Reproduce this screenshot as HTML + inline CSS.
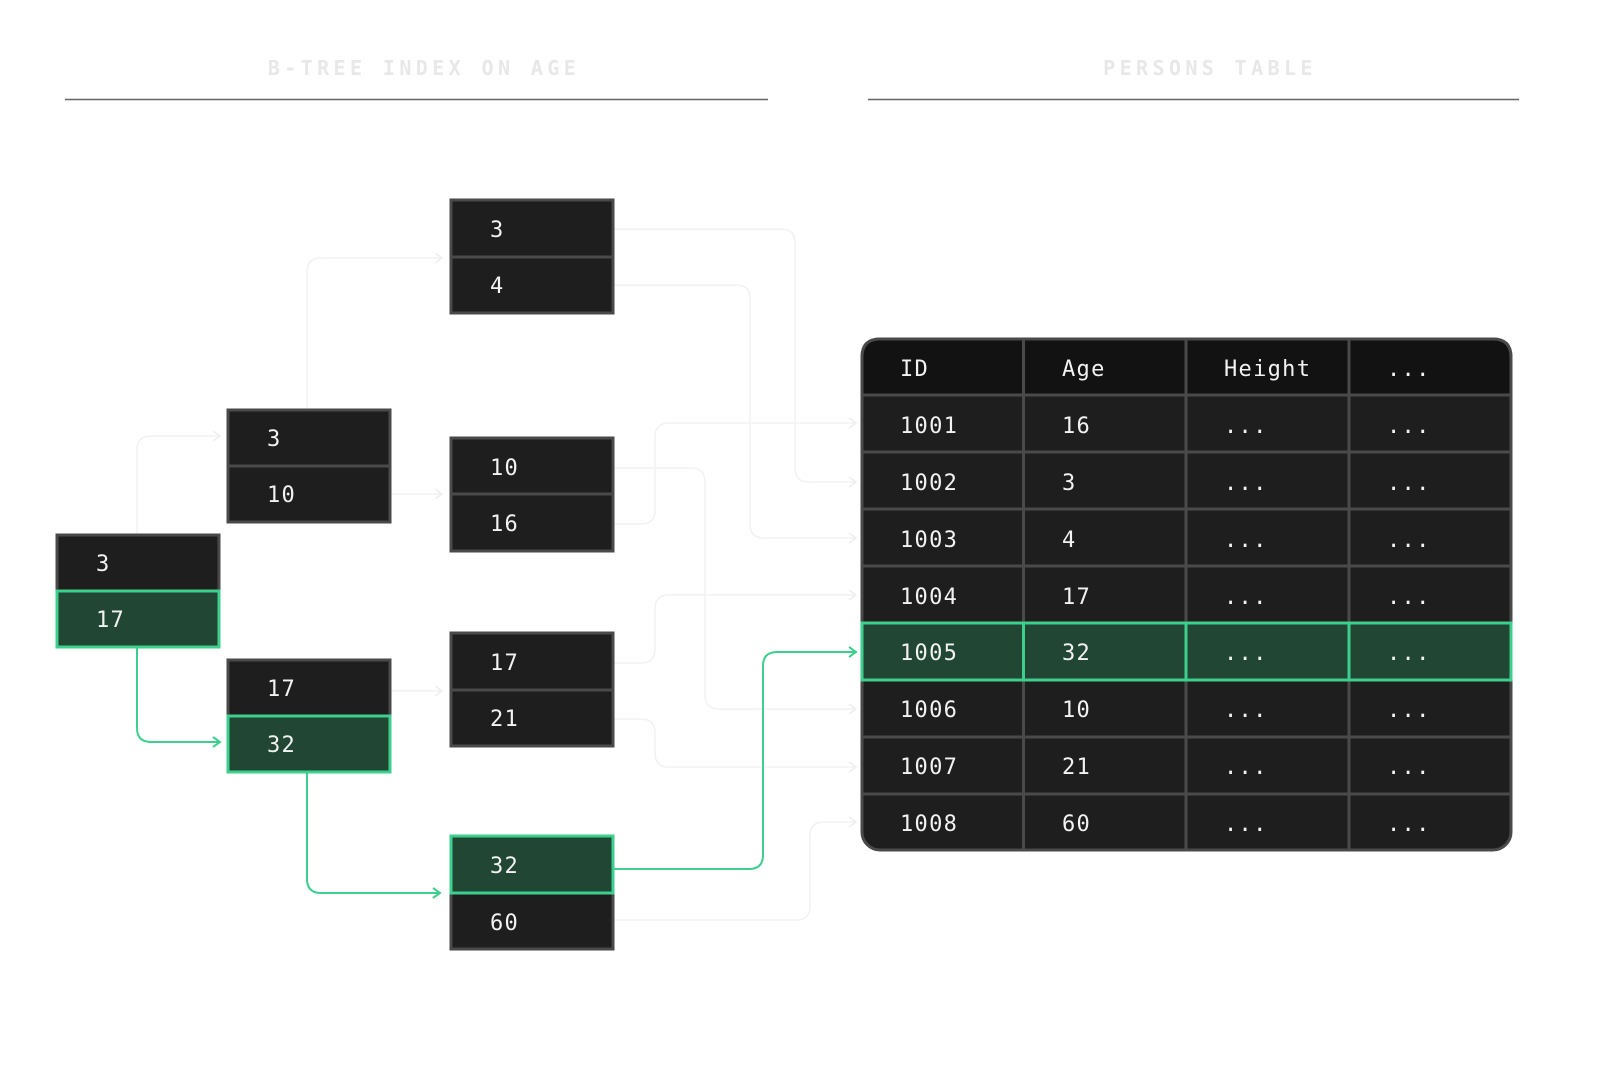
<!DOCTYPE html>
<html><head><meta charset="utf-8"><style>
html,body{margin:0;padding:0;background:#fff;}
svg{display:block;}
text{font-family:"DejaVu Sans Mono","Liberation Mono",monospace;}
</style></head><body>
<svg width="1600" height="1091" viewBox="0 0 1600 1091" xmlns="http://www.w3.org/2000/svg">
<defs>
<marker id="af" markerWidth="12" markerHeight="12" refX="10" refY="6" orient="auto" markerUnits="userSpaceOnUse"><path d="M3,1 L10,6 L3,11" fill="none" stroke="#eeeeee" stroke-width="1.5"/></marker>
<marker id="ag" markerWidth="12" markerHeight="12" refX="10" refY="6" orient="auto" markerUnits="userSpaceOnUse"><path d="M3,1 L10,6 L3,11" fill="none" stroke="#3ecf8e" stroke-width="2"/></marker>
</defs>
<g font-size="20" fill="#e8e8e8" letter-spacing="4.4" text-anchor="middle" font-weight="bold">
<text x="424" y="75">B-TREE INDEX ON AGE</text>
<text x="1210" y="75">PERSONS TABLE</text>
</g>
<line x1="65" y1="99.5" x2="768" y2="99.5" stroke="#666" stroke-width="1.5"/>
<line x1="868" y1="99.5" x2="1519" y2="99.5" stroke="#666" stroke-width="1.5"/>

<g fill="none" stroke="#f2f2f2" stroke-width="1.5" marker-end="url(#af)">
<path d="M137,535 V450 Q137,436 151,436 H220"/>
<path d="M307,410 V272 Q307,258 321,258 H442"/>
<path d="M390,494 H442"/>
<path d="M390,691 H442"/>
<path d="M613,229 H781 Q795,229 795,243 V468 Q795,482 809,482 H856"/>
<path d="M613,285 H736 Q750,285 750,299 V524 Q750,538 764,538 H856"/>
<path d="M613,468 H691 Q705,468 705,482 V695 Q705,709 719,709 H856"/>
<path d="M613,524 H641 Q655,524 655,510 V437 Q655,423 669,423 H856"/>
<path d="M613,663 H641 Q655,663 655,649 V609 Q655,595 669,595 H856"/>
<path d="M613,719 H641 Q655,719 655,733 V753 Q655,767 669,767 H856"/>
<path d="M613,920 H796 Q810,920 810,906 V836 Q810,822 824,822 H856"/>
</g>
<g fill="none" stroke="#3ecf8e" stroke-width="2" marker-end="url(#ag)">
<path d="M137,647 V728 Q137,742 151,742 H220"/>
<path d="M307,772 V879 Q307,893 321,893 H440"/>
<path d="M613,869 H749 Q763,869 763,855 V666 Q763,652 777,652 H856"/>
</g>

<g stroke="#4a4a4a" stroke-width="3">
<rect x="57" y="535" width="162" height="112" fill="#1e1e1e"/>
<rect x="228" y="410" width="162" height="112" fill="#1e1e1e"/>
<line x1="228" y1="466" x2="390" y2="466"/>
<rect x="228" y="660" width="162" height="112" fill="#1e1e1e"/>
<rect x="451" y="200" width="162" height="113" fill="#1e1e1e"/>
<line x1="451" y1="257" x2="613" y2="257"/>
<rect x="451" y="438" width="162" height="113" fill="#1e1e1e"/>
<line x1="451" y1="494" x2="613" y2="494"/>
<rect x="451" y="633" width="162" height="113" fill="#1e1e1e"/>
<line x1="451" y1="690" x2="613" y2="690"/>
<rect x="451" y="836" width="162" height="113" fill="#1e1e1e"/>
</g>
<g stroke="#3ecf8e" stroke-width="3" fill="#214634">
<rect x="57" y="591" width="162" height="56"/>
<rect x="228" y="716" width="162" height="56"/>
<rect x="451" y="836" width="162" height="57"/>
</g>
<g font-size="22" fill="#f2f2f2" letter-spacing="1.3">
<text x="96" y="571">3</text><text x="96" y="627">17</text>
<text x="267" y="446">3</text><text x="267" y="502">10</text>
<text x="267" y="696">17</text><text x="267" y="752">32</text>
<text x="490" y="237">3</text><text x="490" y="293">4</text>
<text x="490" y="475">10</text><text x="490" y="531">16</text>
<text x="490" y="670">17</text><text x="490" y="726">21</text>
<text x="490" y="873">32</text><text x="490" y="930">60</text>
</g>

<g>
<rect x="862" y="339" width="649" height="511" rx="18" fill="#1e1e1e" stroke="#4a4a4a" stroke-width="3"/>
<path d="M862,395 V357 Q862,339 880,339 H1493 Q1511,339 1511,357 V395 Z" fill="#121212" stroke="#4a4a4a" stroke-width="3"/>
<g stroke="#4a4a4a" stroke-width="3">
<line x1="862" y1="452" x2="1511" y2="452"/><line x1="862" y1="509" x2="1511" y2="509"/>
<line x1="862" y1="566" x2="1511" y2="566"/><line x1="862" y1="737" x2="1511" y2="737"/>
<line x1="862" y1="794" x2="1511" y2="794"/>
<line x1="1023.5" y1="339" x2="1023.5" y2="850"/><line x1="1186" y1="339" x2="1186" y2="850"/><line x1="1349" y1="339" x2="1349" y2="850"/>
</g>
<g stroke="#3ecf8e" stroke-width="3" fill="#214634">
<rect x="862" y="623" width="161.5" height="57"/><rect x="1023.5" y="623" width="162.5" height="57"/>
<rect x="1186" y="623" width="163" height="57"/><rect x="1349" y="623" width="162" height="57"/>
</g>
<g font-size="22" fill="#f2f2f2" letter-spacing="1.3">
<text x="900" y="376">ID</text><text x="1062" y="376">Age</text><text x="1224" y="376">Height</text><text x="1387" y="376">...</text>
<text x="900" y="433">1001</text><text x="1062" y="433">16</text><text x="1224" y="433">...</text><text x="1387" y="433">...</text>
<text x="900" y="490">1002</text><text x="1062" y="490">3</text><text x="1224" y="490">...</text><text x="1387" y="490">...</text>
<text x="900" y="547">1003</text><text x="1062" y="547">4</text><text x="1224" y="547">...</text><text x="1387" y="547">...</text>
<text x="900" y="604">1004</text><text x="1062" y="604">17</text><text x="1224" y="604">...</text><text x="1387" y="604">...</text>
<text x="900" y="660">1005</text><text x="1062" y="660">32</text><text x="1224" y="660">...</text><text x="1387" y="660">...</text>
<text x="900" y="717">1006</text><text x="1062" y="717">10</text><text x="1224" y="717">...</text><text x="1387" y="717">...</text>
<text x="900" y="774">1007</text><text x="1062" y="774">21</text><text x="1224" y="774">...</text><text x="1387" y="774">...</text>
<text x="900" y="831">1008</text><text x="1062" y="831">60</text><text x="1224" y="831">...</text><text x="1387" y="831">...</text>
</g>
</g>
</svg>
</body></html>
